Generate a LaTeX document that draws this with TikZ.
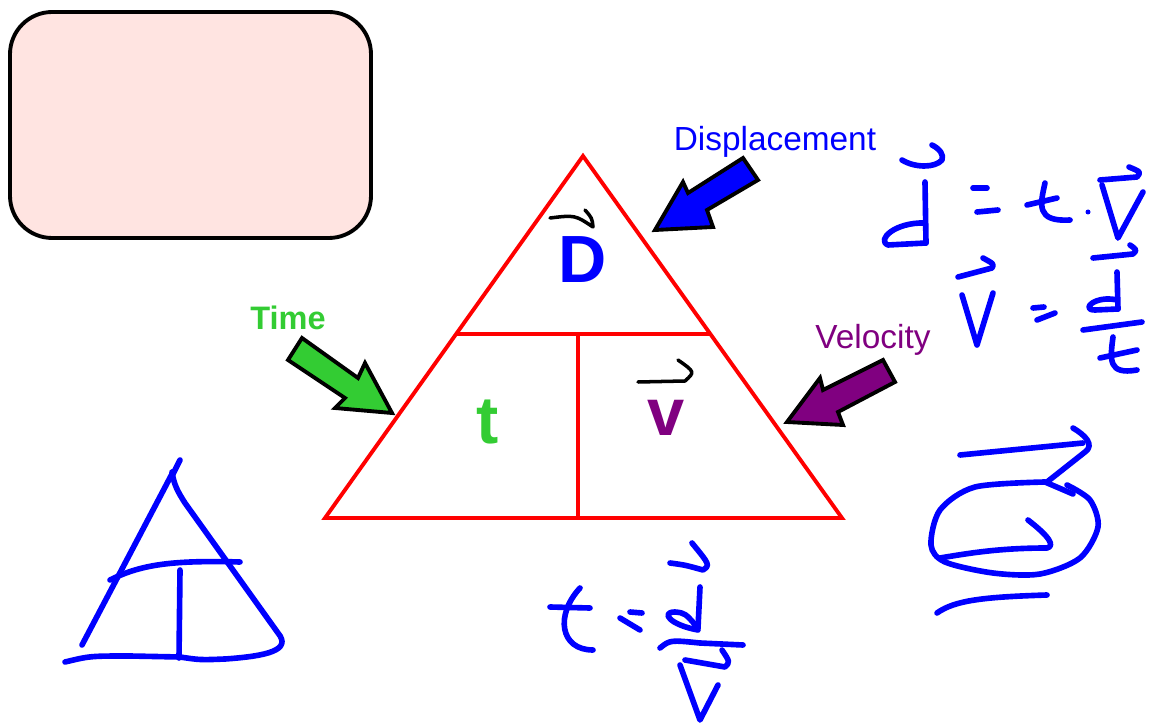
\documentclass[tikz,border=0pt]{standalone}
\usepackage{fontspec}
\setmainfont{Liberation Sans}
\usetikzlibrary{positioning,calc}
\definecolor{pen}{HTML}{0000FF}
\definecolor{edge}{HTML}{FF0000}
\definecolor{grass}{HTML}{33CC33}
\definecolor{plum}{HTML}{800080}
\definecolor{blush}{HTML}{FFE4E1}
\begin{document}
\begin{tikzpicture}[x=.02cm,y=-.02cm,
  ink/.style={pen,line width=3.2pt,line cap=round,line join=round},
  pencil/.style={black,line width=2pt,line cap=round,line join=round},
  pointer/.style={draw=black,line width=2.2pt,line join=miter}]
\useasboundingbox (0,0) rectangle (1150,726);
% empty note card
\draw[line width=2.2pt,fill=blush,rounded corners=24pt] (10,12) rectangle (371,238);
% triangle
\coordinate (apex) at (583,156);\coordinate (bl) at (325,518);\coordinate (br) at (842,518);
\draw[edge,line width=2.2pt] (apex)--(br)--(bl)--cycle;
\draw[edge,line width=2.2pt] ($(apex)!.492!(bl)$)--($(apex)!.492!(br)$);
\draw[edge,line width=2.2pt] (578,334)--(578,518);
\node[pen,anchor=base,font=\bfseries\fontsize{38}{40}\selectfont] (dsp) at (583,283) {D};
\node[grass,anchor=base,font=\bfseries\fontsize{38}{40}\selectfont] (tim) at (488,443) {t};
\node[plum,anchor=base,font=\bfseries\fontsize{38}{40}\selectfont] (vel) at (666,435) {v};
\draw[pencil] (550,218) .. controls (575,215) .. (593,227) .. controls (592,218) .. (585,210);
\draw[pencil] (638,382)--(685,381) .. controls (695,372) .. (678,360);
% labels and pointers
\node[pen,anchor=base,font=\fontsize{19}{22}\selectfont] (dlab) at (775,151) {Displacement};
\node[grass,anchor=base,font=\bfseries\fontsize{18.5}{22}\selectfont] (tlab) at (288,330) {Time};
\node[plum,anchor=base,font=\fontsize{19}{22}\selectfont] (vlab) at (873,349) {Velocity};
\draw[pointer,fill=pen] (655,230)--(683,182)--(688,193)--(743,158)--(758,180)--(707,210)--(713,227)--cycle;
\draw[pointer,fill=grass] (392,413)--(365,363)--(358,378)--(302,338)--(288,360)--(345,398)--(335,408)--cycle;
\draw[pointer,fill=plum] (787,422)--(820,378)--(823,390)--(883,360)--(895,382)--(838,412)--(843,425)--cycle;
% small sketch
\draw[ink] (82,645)--(173,472);
\draw[ink] (180,460)--(172,476);
\draw[ink] (172,472) .. controls (174,485) and (178,492) .. (185,503)--(278,633) .. controls (292,650) and (268,656) .. (225,659);
\draw[ink] (65,662) .. controls (90,656) .. (130,656)--(180,657) .. controls (200,660) .. (225,659);
\draw[ink] (110,580) .. controls (140,565) and (170,560) .. (240,562);
\draw[ink] (180,570)--(179,658);
% d = t.v
\draw[ink] (902,160) .. controls (915,168) and (935,168) .. (942,160) .. controls (944,155) and (940,149) .. (932,145);
\draw[ink] (925,182)--(926,243);
\draw[ink] (925,223) .. controls (895,222) and (876,240) .. (888,245)--(926,243);
\draw[ink] (973,188)--(987,188);
\draw[ink] (977,212)--(998,210);
\draw[ink] (1045,183) .. controls (1040,205) and (1036,222) .. (1070,220);
\draw[ink] (1027,205)--(1057,198);
\fill[pen] (1088,212) circle (2.5);
\draw[ink] (1100,180)--(1137,177) .. controls (1141,172) .. (1129,167);
\draw[ink] (1102,185)--(1118,238)--(1143,192);
% v = d/t
\draw[ink] (958,277)--(992,268) .. controls (994,264) .. (983,258);
\draw[ink] (962,295)--(977,345)--(993,293);
\draw[ink] (1033,308)--(1044,307);
\draw[ink] (1037,320)--(1055,313);
\draw[ink] (1093,258)--(1133,254) .. controls (1137,250) .. (1130,245);
\draw[ink] (1117,272)--(1118,309);
\draw[ink] (1117,300) .. controls (1095,295) and (1080,310) .. (1095,310)--(1118,309);
\draw[ink] (1083,330)--(1142,322);
\draw[ink] (1100,358)--(1137,350);
\draw[ink] (1113,337) .. controls (1110,360) and (1108,375) .. (1137,370);
% circled D
\draw[ink] (960,455)--(1083,443);
\draw[ink] (1073,428) .. controls (1085,435) and (1095,445) .. (1085,452)--(1047,482);
\draw[ink] (1045,482)--(1073,494);
\draw[ink] plot[smooth] coordinates {(1067,485) (1090,500) (1098,527) (1080,558) (1040,574) (993,573) (945,562) (931,545) (940,510) (975,487) (1045,482)};
\draw[ink] (940,558) .. controls (970,553) and (1000,548) .. (1047,548) .. controls (1055,546) and (1050,537) .. (1028,520);
\draw[ink] (937,613) .. controls (955,600) and (985,597) .. (1047,595);
% t = d/v
\draw[ink] (550,607)--(590,608);
\draw[ink] (580,588) .. controls (555,615) and (560,650) .. (593,650);
\draw[ink] (620,618)--(640,630);
\draw[ink] (630,612)--(642,613);
\draw[ink] (670,563) .. controls (685,565) .. (703,570) .. controls (710,565) .. (692,543);
\draw[ink] (700,587)--(698,628);
\draw[ink] (698,630) .. controls (670,625) and (660,612) .. (675,612) .. controls (685,613) .. (698,628);
\draw[ink] (660,648) .. controls (670,640) .. (700,643)--(743,645);
\draw[ink] (685,660)--(725,667) .. controls (730,662) .. (722,650);
\draw[ink] (680,665)--(700,720)--(718,685);
\end{tikzpicture}
\end{document}
